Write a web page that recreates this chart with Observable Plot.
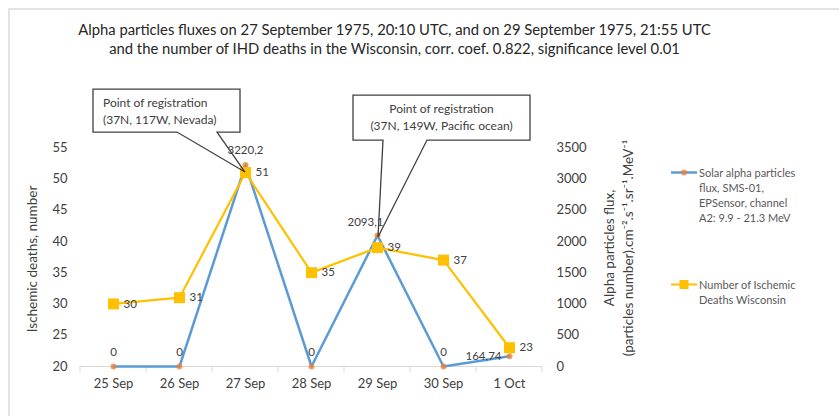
<!DOCTYPE html>
<html><head><meta charset="utf-8">
<script src="https://cdn.jsdelivr.net/npm/d3@7"></script>
<script src="https://cdn.jsdelivr.net/npm/@observablehq/plot@0.6"></script>
<style>
body{margin:0;background:#fff;}
#wrap{position:relative;width:839px;height:416px;overflow:hidden;font-family:Lato,"Open Sans",sans-serif;color:#404040;background:#fff;}
#frame{position:absolute;left:8px;top:8px;width:900px;height:500px;border-left:2px solid #e3e3e3;border-top:2px solid #e3e3e3;}
#title{position:absolute;left:0;top:20px;width:789px;text-align:center;font-size:14.8px;line-height:19px;color:#262626;}
.ax{position:absolute;font-size:13.5px;color:#404040;white-space:nowrap;transform:translate(-50%,-50%) rotate(-90deg);text-align:center;line-height:19px;}
.leg{position:absolute;font-size:11px;line-height:15px;color:#595959;}
.leg svg{position:absolute;left:-28px;top:0;}
#chart{position:absolute;left:0;top:0;}
</style></head><body><div id="wrap"><div id="frame"></div><div id="chart"></div></div>
<script>
const dates = ["25 Sep","26 Sep","27 Sep","28 Sep","29 Sep","30 Sep","1 Oct"];
const alphaFlux = [0, 0, 3220.2, 0, 2093.1, 0, 164.74];
const alphaLabels = ["0","0","3220,2","0","2093,1","0","164,74"];
const deaths = [30, 31, 51, 35, 39, 37, 23];
const leftTicks = [20, 25, 30, 35, 40, 45, 50, 55];
const rightTicks = [0, 500, 1000, 1500, 2000, 2500, 3000, 3500];
const titleLines = [
  "Alpha particles fluxes on 27 September 1975, 20:10 UTC, and on 29 September 1975, 21:55 UTC",
  "and the number of IHD deaths in the Wisconsin,  corr. coef. 0.822, significance level 0.01"
];
const leftTitle = "Ischemic deaths, number";
const rightTitleLines = ["Alpha particles  flux,", "(particles number).cm\u207B\u00B2.s\u207B\u00B9.sr\u207B\u00B9.MeV\u207B\u00B9"];
const alphaLegend = ["Solar alpha particles", "flux, SMS-01,", "EPSensor, channel", "A2: 9.9 - 21.3 MeV"];
const deathsLegend = ["Number of Ischemic", "Deaths Wisconsin"];
const callouts = [
  {date: "27 Sep", series: "deaths", lines: ["Point of registration", "(37N, 117W, Nevada)"]},
  {date: "29 Sep", series: "alpha", lines: ["Point of registration", "(37N, 149W, Pacific ocean)"]}
];

const BLUE = "#5B9BD5", ORANGE = "#ED7D31", GOLD = "#FFC000";
const leftMin = 20, leftMax = 55, rightMax = 3500;
const toLeft = v => leftMin + v * (leftMax - leftMin) / rightMax;

const rows = dates.map((d, i) => ({date: d, alpha: alphaFlux[i], alphaY: toLeft(alphaFlux[i]), alphaLabel: alphaLabels[i], deaths: deaths[i]}));

// callout geometry (pixel offsets relative to the annotated point)
const calloutStyle = [
  {x0: -152, x1: -5, y0: -83, y1: -40, b0: -68, b1: -28, tx: 0, ty: 0, align: "start"},
  {x0: -25, x1: 152, y0: -142, y1: -97, b0: 5, b1: 49, tx: 1, ty: 2, align: "middle"}
];

function boundaryTicks(index, scales, values, dims) {
  const g = d3.create("svg:g");
  const x = scales.x, y = scales.y;
  const step = x(dates[1]) - x(dates[0]);
  const xs = dates.map(d => x(d) - step / 2).concat([x(dates[dates.length - 1]) + step / 2]);
  const y0 = y(leftMin);
  g.selectAll("line").data(xs).join("line")
    .attr("x1", d => d).attr("x2", d => d).attr("y1", y0).attr("y2", y0 + 6)
    .attr("stroke", "#d9d9d9");
  return g.node();
}

function calloutMark(index, scales) {
  const g = d3.create("svg:g");
  callouts.forEach((c, k) => {
    const s = calloutStyle[k];
    const r = rows.find(r => r.date === c.date);
    const px = scales.x(c.date) + s.tx;
    const py = scales.y(c.series === "deaths" ? r.deaths : r.alphaY) + s.ty;
    const X0 = px + s.x0, X1 = px + s.x1, Y0 = py + s.y0, Y1 = py + s.y1;
    const B0 = px + s.b0, B1 = px + s.b1;
    const path = `M${X0},${Y0}H${X1}V${Y1}H${B1}L${px},${py}L${B0},${Y1}H${X0}Z`;
    g.append("path").attr("d", path).attr("fill", "none").attr("stroke", "#404040").attr("stroke-width", 1.3);
    g.append("rect").attr("x", X0 + 1).attr("y", Y0 + 1).attr("width", X1 - X0 - 2).attr("height", Y1 - Y0 - 2).attr("fill", "#fff");
    const tx = s.align === "start" ? X0 + 10 : (X0 + X1) / 2;
    c.lines.forEach((t, j) => {
      g.append("text").attr("x", tx).attr("y", Y0 + 14 + j * 17).attr("dy", "0.35em")
        .attr("text-anchor", s.align).attr("font-size", 12).attr("fill", "#404040").text(t);
    });
  });
  return g.node();
}

const chart = Plot.plot({
  width: 839, height: 416,
  marginLeft: 80, marginRight: 297, marginTop: 147, marginBottom: 50,
  style: {fontFamily: "Lato, 'Open Sans', sans-serif", background: "transparent", overflow: "visible"},
  x: {type: "point", domain: dates, padding: 0.5},
  y: {domain: [leftMin, leftMax]},
  marks: [
    Plot.ruleY([leftMin], {stroke: "#d9d9d9"}),
    boundaryTicks,
    Plot.axisX({tickSize: 0, tickPadding: 12, fontSize: 13, color: "#404040", label: null}),
    Plot.axisY(leftTicks, {anchor: "left", tickSize: 0, tickPadding: 13, fontSize: 13, color: "#404040", label: null}),
    Plot.axisY(rightTicks.map(toLeft), {anchor: "right", tickSize: 0, tickPadding: 14, fontSize: 13, color: "#404040", label: null,
      tickFormat: (d, i) => String(rightTicks[i])}),
    Plot.line(rows, {x: "date", y: "alphaY", stroke: BLUE, strokeWidth: 2.5}),
    Plot.dot(rows, {x: "date", y: "alphaY", r: 3, fill: ORANGE, fillOpacity: 0.75}),
    Plot.line(rows, {x: "date", y: "deaths", stroke: GOLD, strokeWidth: 2.2}),
    Plot.dot(rows, {x: "date", y: "deaths", symbol: "square", r: 6.2, fill: GOLD}),
    Plot.text(rows.filter(r => r.alpha === 0), {x: "date", y: "alphaY", text: "alphaLabel", dy: -14, fontSize: 11.5, fill: "#404040"}),
    Plot.text(rows.filter(r => r.alpha > 3000), {x: "date", y: "alphaY", text: "alphaLabel", dy: -15, fontSize: 11.5, fill: "#404040"}),
    Plot.text(rows.filter(r => r.alpha > 2000 && r.alpha < 3000), {x: "date", y: "alphaY", text: "alphaLabel", dx: -12, dy: -13, fontSize: 11.5, fill: "#404040"}),
    Plot.text(rows.filter(r => r.alpha > 0 && r.alpha < 1000), {x: "date", y: "alphaY", text: "alphaLabel", dx: -8, textAnchor: "end", fontSize: 11.5, fill: "#404040"}),
    Plot.text(rows, {x: "date", y: "deaths", text: "deaths", dx: 10, textAnchor: "start", fontSize: 11.5, fill: "#404040"}),
    calloutMark
  ]
});
document.getElementById("chart").appendChild(chart);

const wrap = document.getElementById("wrap");
const title = document.createElement("div");
title.id = "title";
title.innerHTML = titleLines.map(t => `<div>${t}</div>`).join("");
wrap.appendChild(title);

const lt = document.createElement("div");
lt.className = "ax"; lt.style.left = "32px"; lt.style.top = "259px"; lt.textContent = leftTitle;
wrap.appendChild(lt);

const rt = document.createElement("div");
rt.className = "ax"; rt.style.left = "619px"; rt.style.top = "248px";
rt.innerHTML = rightTitleLines.map(t => `<div>${t}</div>`).join("");
wrap.appendChild(rt);

function legendItem(lines, top, kind) {
  const d = document.createElement("div");
  d.className = "leg"; d.style.left = "699px"; d.style.top = top + "px";
  d.innerHTML = lines.map(t => `<div>${t}</div>`).join("");
  const sw = kind === "alpha"
    ? `<svg width="28" height="15"><line x1="0" x2="26" y1="7.5" y2="7.5" stroke="${BLUE}" stroke-width="2.5"/><circle cx="13" cy="7.5" r="3" fill="${ORANGE}" fill-opacity="0.75"/></svg>`
    : `<svg width="28" height="15"><line x1="0" x2="26" y1="7.5" y2="7.5" stroke="${GOLD}" stroke-width="2"/><rect x="8.5" y="3" width="9" height="9" fill="${GOLD}"/></svg>`;
  d.insertAdjacentHTML("afterbegin", sw);
  wrap.appendChild(d);
}
legendItem(alphaLegend, 165, "alpha");
legendItem(deathsLegend, 277, "deaths");
</script>
</body></html>
